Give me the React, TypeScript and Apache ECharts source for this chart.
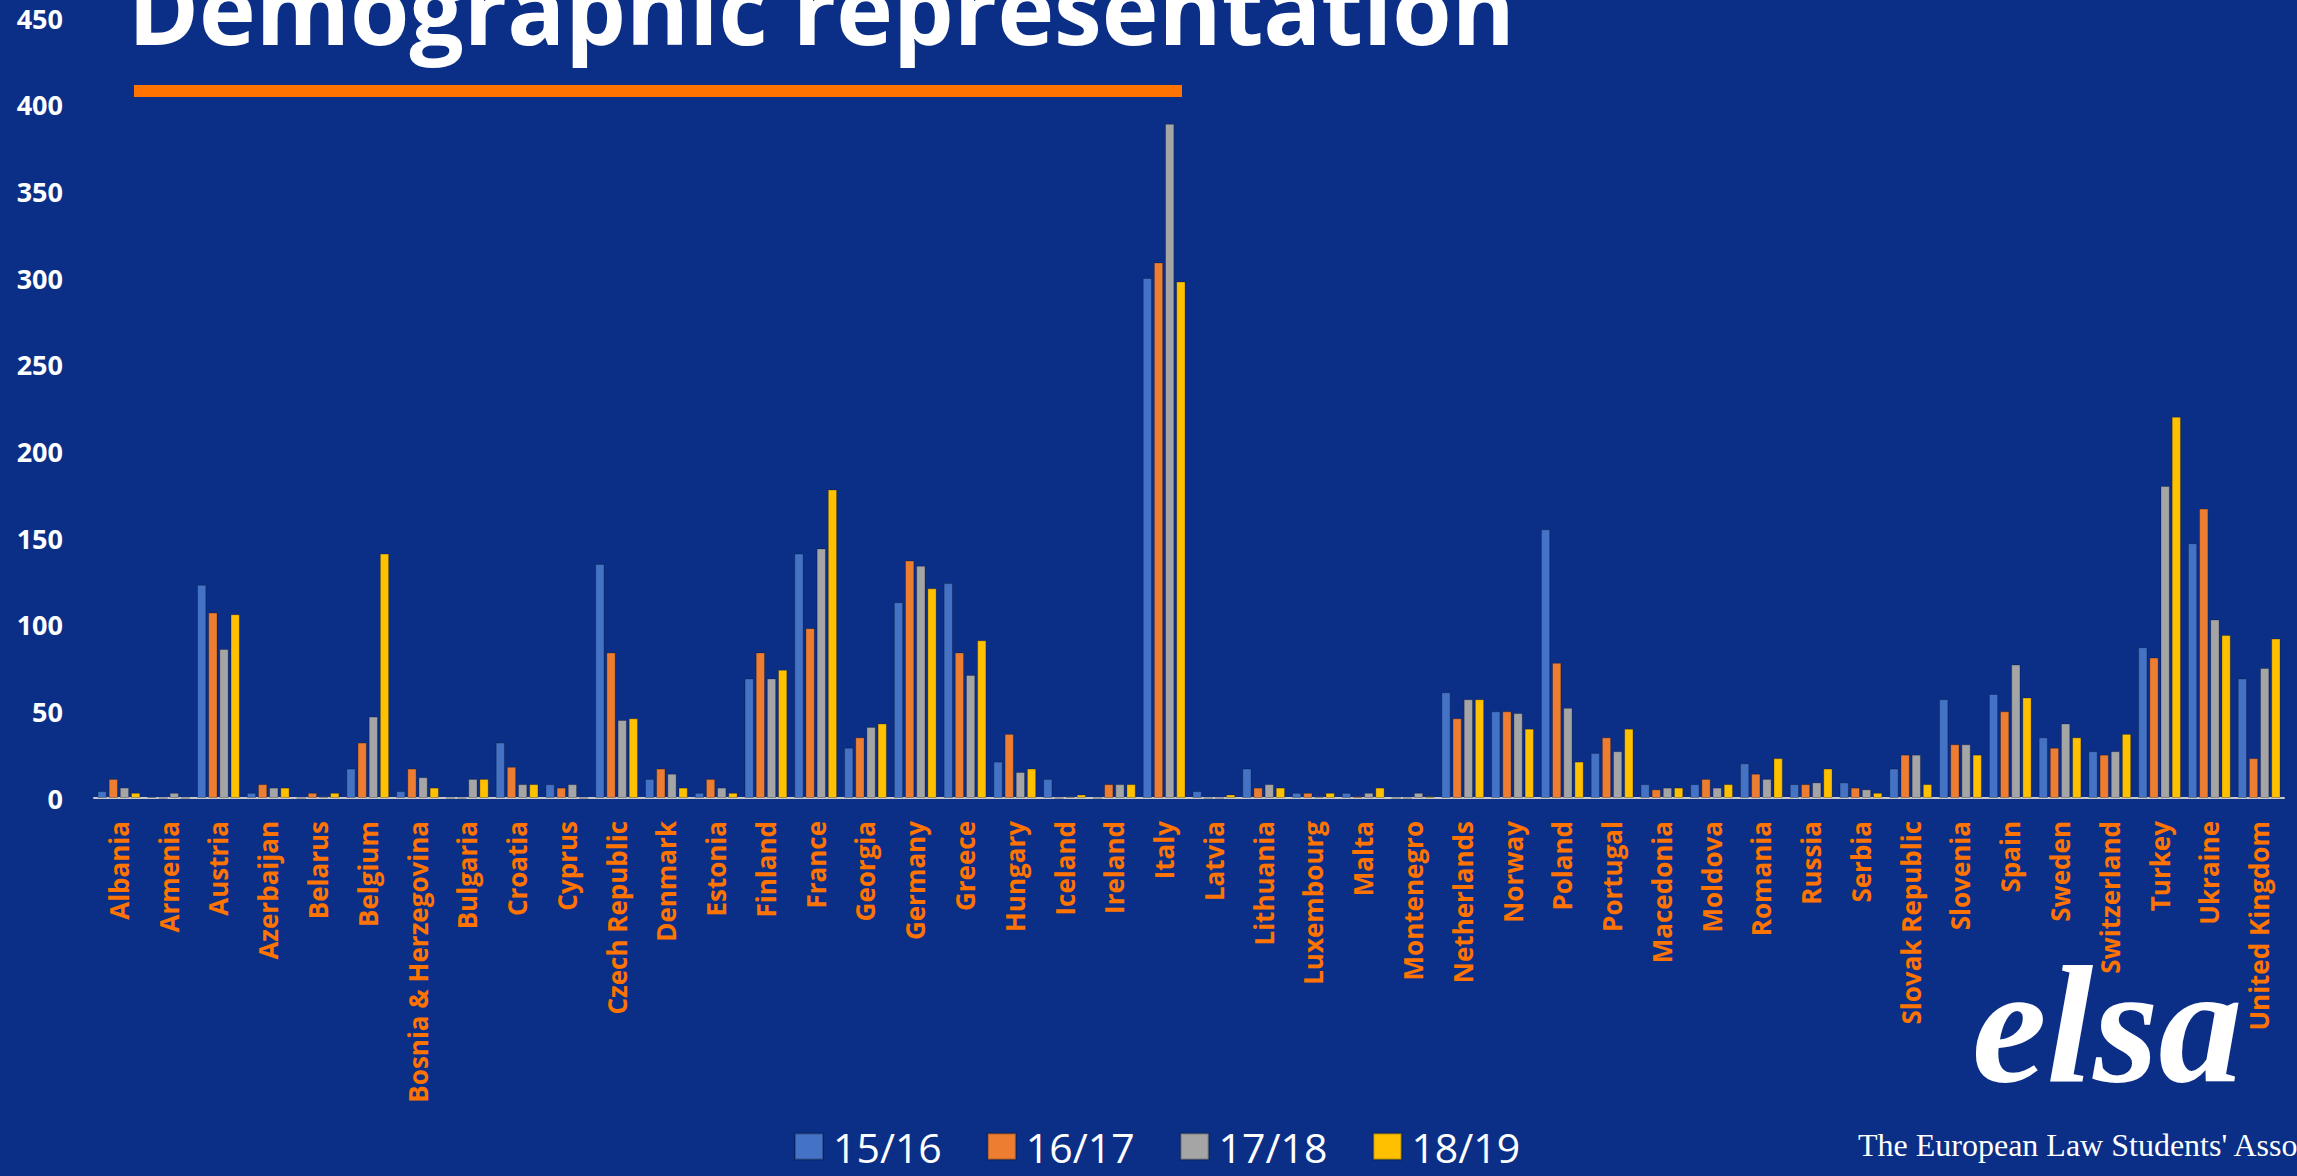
import React, { useEffect, useRef } from "react";
import * as echarts from "echarts";

const categories = [
  "Albania", "Armenia", "Austria", "Azerbaijan", "Belarus", "Belgium",
  "Bosnia & Herzegovina", "Bulgaria", "Croatia", "Cyprus", "Czech Republic",
  "Denmark", "Estonia", "Finland", "France", "Georgia", "Germany", "Greece",
  "Hungary", "Iceland", "Ireland", "Italy", "Latvia", "Lithuania", "Luxembourg",
  "Malta", "Montenegro", "Netherlands", "Norway", "Poland", "Portugal",
  "Macedonia", "Moldova", "Romania", "Russia", "Serbia", "Slovak Republic",
  "Slovenia", "Spain", "Sweden", "Switzerland", "Turkey", "Ukraine", "United Kingdom",
];

const seriesNames = ["15/16", "16/17", "17/18", "18/19"];

const s1516 = [4, 1, 123, 3, 0, 17, 4, 0, 32, 8, 135, 11, 3, 69, 141, 29, 113, 124, 21, 11, 0, 300, 4, 17, 3, 3, 0, 61, 50, 155, 26, 8, 8, 20, 8, 9, 17, 57, 60, 35, 27, 87, 147, 69];
const s1617 = [11, 0, 107, 8, 3, 32, 17, 0, 18, 6, 84, 17, 11, 84, 98, 35, 137, 84, 37, 0, 8, 309, 0, 6, 3, 1, 0, 46, 50, 78, 35, 5, 11, 14, 8, 6, 25, 31, 50, 29, 25, 81, 167, 23];
const s1718 = [6, 3, 86, 6, 1, 47, 12, 11, 8, 8, 45, 14, 6, 69, 144, 41, 134, 71, 15, 1, 8, 389, 0, 8, 1, 3, 3, 57, 49, 52, 27, 6, 6, 11, 9, 5, 25, 31, 77, 43, 27, 180, 103, 75];
const s1819 = [3, 0, 106, 6, 3, 141, 6, 11, 8, 0, 46, 6, 3, 74, 178, 43, 121, 91, 17, 2, 8, 298, 2, 6, 3, 6, 1, 57, 40, 21, 40, 6, 8, 23, 17, 3, 8, 25, 58, 35, 37, 220, 94, 92];

const yTicks = { min: 0, max: 450, interval: 50 };

const colors = ["#4472C4", "#ED7D31", "#A5A5A5", "#FFC000"];
const BG = "#0B2F87";
const ORANGE = "#FF7300";

export default function App() {
  const ref = useRef<HTMLDivElement>(null);

  useEffect(() => {
    document.body.style.margin = "0";
    document.body.style.overflow = "hidden";
    const chart = echarts.init(ref.current!, null, { renderer: "svg" });
    const data = [s1516, s1617, s1718, s1819];
    chart.setOption({
      animation: false,
      backgroundColor: BG,
      grid: { left: 94, right: 13, top: 18, bottom: 378, containLabel: false },
      legend: {
        data: seriesNames,
        left: 794,
        top: 1126,
        padding: 0,
        icon: "rect",
        itemWidth: 28,
        itemHeight: 26,
        itemGap: 45,
        textStyle: {
          color: "#FFFFFF",
          fontFamily: "Open Sans",
          fontSize: 41,
          lineHeight: 30,
          padding: [0, 0, 0, 5],
        },
      },
      xAxis: {
        type: "category",
        data: categories,
        axisLine: { lineStyle: { color: "#C8C8C8", width: 2 } },
        axisTick: { show: false },
        axisLabel: {
          interval: 0,
          rotate: 90,
          margin: 23,
          color: ORANGE,
          fontFamily: "Open Sans",
          fontWeight: "bold",
          fontSize: 26,
        },
      },
      yAxis: {
        type: "value",
        min: yTicks.min,
        max: yTicks.max,
        interval: yTicks.interval,
        splitLine: { show: false },
        axisLine: { show: false },
        axisTick: { show: false },
        axisLabel: {
          margin: 31,
          color: "#FFFFFF",
          fontFamily: "Open Sans",
          fontWeight: "bold",
          fontSize: 27,
        },
      },
      series: data.map((d, i) => ({
        name: seriesNames[i],
        type: "bar",
        data: d,
        barCategoryGap: "14%",
        barGap: "20%",
        itemStyle: {
          color: colors[i],
          borderColor: "rgba(0,0,0,0.25)",
          borderWidth: 1,
        },
      })),
      graphic: [
        {
          type: "text",
          left: 128,
          top: -41,
          style: {
            text: "Demographic representation",
            fill: "#FFFFFF",
            font: "bold 96px 'Open Sans'",
          },
          z: 10,
        },
        {
          type: "rect",
          shape: { x: 134, y: 85, width: 1048, height: 12 },
          style: { fill: ORANGE },
          z: 10,
        },
        {
          type: "text",
          left: 1972,
          top: 940,
          style: {
            text: "elsa",
            fill: "#FFFFFF",
            font: "italic bold 168px 'Liberation Serif'",
          },
          z: 10,
        },
        {
          type: "text",
          left: 1858,
          top: 1129,
          style: {
            text: "The European Law Students' Association",
            fill: "#FFFFFF",
            font: "32px 'Liberation Serif'",
          },
          z: 10,
        },
      ],
    });
    return () => chart.dispose();
  }, []);

  return <div ref={ref} style={{ width: 2297, height: 1176 }} />;
}
